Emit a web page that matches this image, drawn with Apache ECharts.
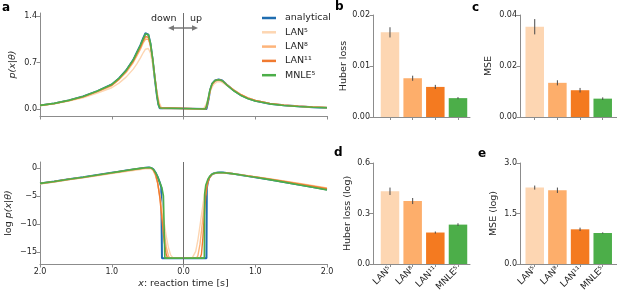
<!DOCTYPE html>
<html>
<head>
<meta charset="utf-8">
<script src="https://cdn.jsdelivr.net/npm/echarts@6/dist/echarts.min.js"></script>
<style>
  html, body { margin: 0; padding: 0; background: #fff; }
  #chart { width: 617px; height: 295px; }
</style>
</head>
<body>
<div id="chart"></div>
<script>
// likelihood curves, [x (s, signed: down < 0 < up), p]
const analyticalLin = [[-2.0, 0.055], [-1.8, 0.085], [-1.6, 0.13], [-1.4, 0.19], [-1.2, 0.27], [-1.0, 0.37], [-0.9, 0.46], [-0.8, 0.58], [-0.7, 0.74], [-0.65, 0.85], [-0.6, 0.96], [-0.56, 1.07], [-0.53, 1.14], [-0.51, 1.16], [-0.49, 1.12], [-0.46, 0.98], [-0.43, 0.74], [-0.40, 0.46], [-0.37, 0.2], [-0.35, 0.07], [-0.33, 0.01], [-0.32, 0], [0.32, 0], [0.33, 0.03], [0.35, 0.15], [0.37, 0.28], [0.40, 0.38], [0.44, 0.43], [0.49, 0.445], [0.54, 0.43], [0.6, 0.37], [0.7, 0.28], [0.8, 0.21], [0.9, 0.16], [1.0, 0.125], [1.2, 0.08], [1.4, 0.055], [1.6, 0.04], [1.8, 0.028], [2.0, 0.02]];
const lan5Lin = [[-2.0, 0.05], [-1.8, 0.08], [-1.6, 0.12], [-1.4, 0.17], [-1.2, 0.24], [-1.0, 0.32], [-0.9, 0.39], [-0.8, 0.48], [-0.7, 0.6], [-0.65, 0.68], [-0.6, 0.77], [-0.56, 0.85], [-0.53, 0.9], [-0.51, 0.92], [-0.49, 0.91], [-0.46, 0.84], [-0.43, 0.68], [-0.40, 0.47], [-0.37, 0.26], [-0.34, 0.1], [-0.31, 0.03], [-0.28, 0.005], [-0.26, 0], [0.26, 0], [0.29, 0.02], [0.32, 0.08], [0.35, 0.18], [0.38, 0.29], [0.42, 0.37], [0.47, 0.41], [0.52, 0.41], [0.58, 0.37], [0.7, 0.29], [0.8, 0.22], [0.9, 0.17], [1.0, 0.13], [1.2, 0.085], [1.4, 0.06], [1.6, 0.042], [1.8, 0.03], [2.0, 0.022]];
const lan8Lin = [[-2.0, 0.052], [-1.8, 0.082], [-1.6, 0.125], [-1.4, 0.18], [-1.2, 0.26], [-1.0, 0.35], [-0.9, 0.44], [-0.8, 0.55], [-0.7, 0.7], [-0.65, 0.8], [-0.6, 0.9], [-0.56, 1.0], [-0.53, 1.05], [-0.51, 1.07], [-0.49, 1.05], [-0.46, 0.95], [-0.43, 0.75], [-0.40, 0.49], [-0.37, 0.24], [-0.34, 0.08], [-0.32, 0.02], [-0.30, 0], [0.30, 0], [0.32, 0.03], [0.34, 0.12], [0.37, 0.27], [0.40, 0.37], [0.44, 0.42], [0.49, 0.435], [0.54, 0.42], [0.6, 0.37], [0.7, 0.285], [0.8, 0.215], [0.9, 0.165], [1.0, 0.13], [1.2, 0.085], [1.4, 0.058], [1.6, 0.042], [1.8, 0.03], [2.0, 0.022]];
const lan11Lin = [[-2.0, 0.054], [-1.8, 0.084], [-1.6, 0.128], [-1.4, 0.185], [-1.2, 0.265], [-1.0, 0.36], [-0.9, 0.45], [-0.8, 0.57], [-0.7, 0.72], [-0.65, 0.83], [-0.6, 0.93], [-0.56, 1.03], [-0.53, 1.09], [-0.51, 1.11], [-0.49, 1.08], [-0.46, 0.96], [-0.43, 0.75], [-0.40, 0.48], [-0.37, 0.22], [-0.35, 0.09], [-0.33, 0.02], [-0.31, 0], [0.31, 0], [0.33, 0.05], [0.35, 0.16], [0.37, 0.28], [0.40, 0.375], [0.44, 0.425], [0.49, 0.44], [0.54, 0.425], [0.6, 0.37], [0.7, 0.285], [0.8, 0.215], [0.9, 0.163], [1.0, 0.128], [1.2, 0.083], [1.4, 0.057], [1.6, 0.041], [1.8, 0.03], [2.0, 0.021]];
const mnleLin = [[-2.0, 0.055], [-1.8, 0.085], [-1.6, 0.13], [-1.4, 0.19], [-1.2, 0.27], [-1.0, 0.37], [-0.9, 0.46], [-0.8, 0.58], [-0.7, 0.74], [-0.65, 0.85], [-0.6, 0.96], [-0.56, 1.06], [-0.53, 1.13], [-0.51, 1.15], [-0.49, 1.12], [-0.46, 0.99], [-0.43, 0.76], [-0.40, 0.47], [-0.37, 0.2], [-0.35, 0.07], [-0.33, 0.015], [-0.31, 0], [0.30, 0], [0.32, 0.04], [0.34, 0.14], [0.37, 0.29], [0.40, 0.385], [0.44, 0.43], [0.49, 0.44], [0.54, 0.425], [0.6, 0.365], [0.7, 0.275], [0.8, 0.205], [0.9, 0.155], [1.0, 0.12], [1.2, 0.078], [1.4, 0.053], [1.6, 0.038], [1.8, 0.027], [2.0, 0.019]];

// log likelihoods, [x, log p]
const analyticalLog = [[-2.0, -2.75], [-1.8, -2.4], [-1.6, -2.0], [-1.4, -1.65], [-1.2, -1.25], [-1.0, -0.85], [-0.9, -0.65], [-0.8, -0.45], [-0.7, -0.25], [-0.6, -0.07], [-0.53, 0.05], [-0.48, 0.09], [-0.45, 0.02], [-0.42, -0.25], [-0.39, -0.8], [-0.36, -1.6], [-0.33, -2.6], [-0.31, -3.5], [-0.30, -16.1], [0.32, -16.1], [0.325, -3.6], [0.34, -2.5], [0.36, -1.7], [0.39, -1.2], [0.42, -0.98], [0.46, -0.85], [0.5, -0.8], [0.55, -0.82], [0.6, -0.9], [0.7, -1.05], [0.8, -1.25], [0.9, -1.45], [1.0, -1.65], [1.2, -2.05], [1.4, -2.5], [1.6, -2.95], [1.8, -3.4], [2.0, -3.85]];
const lan5Log = [[-2.0, -2.85], [-1.8, -2.5], [-1.6, -2.1], [-1.4, -1.75], [-1.2, -1.38], [-1.0, -1.0], [-0.9, -0.82], [-0.8, -0.63], [-0.7, -0.45], [-0.6, -0.27], [-0.53, -0.15], [-0.48, -0.1], [-0.45, -0.15], [-0.42, -0.55], [-0.39, -1.4], [-0.36, -2.8], [-0.33, -4.7], [-0.30, -7.1], [-0.27, -9.7], [-0.24, -12.2], [-0.21, -14.2], [-0.18, -15.5], [-0.15, -16.0], [-0.13, -16.1], [0.12, -16.1], [0.14, -15.9], [0.17, -14.9], [0.20, -12.9], [0.23, -10.3], [0.26, -7.5], [0.29, -4.9], [0.32, -2.9], [0.35, -1.8], [0.38, -1.25], [0.42, -1.0], [0.46, -0.88], [0.5, -0.84], [0.55, -0.85], [0.6, -0.9], [0.7, -1.03], [0.8, -1.2], [0.9, -1.38], [1.0, -1.56], [1.2, -1.93], [1.4, -2.32], [1.6, -2.72], [1.8, -3.12], [2.0, -3.55]];
const lan8Log = [[-2.0, -2.8], [-1.8, -2.45], [-1.6, -2.05], [-1.4, -1.7], [-1.2, -1.31], [-1.0, -0.92], [-0.9, -0.73], [-0.8, -0.53], [-0.7, -0.34], [-0.6, -0.15], [-0.53, -0.02], [-0.48, 0.03], [-0.45, -0.05], [-0.42, -0.42], [-0.39, -1.25], [-0.36, -2.7], [-0.33, -5.1], [-0.30, -8.2], [-0.27, -11.4], [-0.24, -14.1], [-0.21, -15.7], [-0.19, -16.1], [0.18, -16.1], [0.20, -15.7], [0.23, -13.6], [0.26, -10.1], [0.29, -6.4], [0.32, -3.5], [0.35, -1.95], [0.38, -1.3], [0.42, -1.02], [0.46, -0.88], [0.5, -0.83], [0.55, -0.84], [0.6, -0.9], [0.7, -1.04], [0.8, -1.22], [0.9, -1.4], [1.0, -1.58], [1.2, -1.96], [1.4, -2.37], [1.6, -2.78], [1.8, -3.2], [2.0, -3.62]];
const lan11Log = [[-2.0, -2.77], [-1.8, -2.42], [-1.6, -2.02], [-1.4, -1.67], [-1.2, -1.27], [-1.0, -0.88], [-0.9, -0.68], [-0.8, -0.48], [-0.7, -0.28], [-0.6, -0.1], [-0.53, 0.02], [-0.48, 0.06], [-0.45, 0.0], [-0.42, -0.33], [-0.39, -1.1], [-0.36, -2.6], [-0.33, -5.3], [-0.30, -9.2], [-0.27, -13.0], [-0.24, -15.5], [-0.22, -16.1], [0.23, -16.1], [0.25, -15.4], [0.27, -12.5], [0.29, -8.5], [0.31, -5.0], [0.33, -3.0], [0.36, -1.8], [0.39, -1.25], [0.42, -1.0], [0.46, -0.87], [0.5, -0.82], [0.55, -0.83], [0.6, -0.9], [0.7, -1.04], [0.8, -1.23], [0.9, -1.42], [1.0, -1.6], [1.2, -1.99], [1.4, -2.41], [1.6, -2.83], [1.8, -3.26], [2.0, -3.7]];
const mnleLog = [[-2.0, -2.75], [-1.8, -2.4], [-1.6, -2.0], [-1.4, -1.65], [-1.2, -1.25], [-1.0, -0.85], [-0.9, -0.65], [-0.8, -0.45], [-0.7, -0.25], [-0.6, -0.07], [-0.53, 0.04], [-0.48, 0.08], [-0.45, 0.02], [-0.42, -0.25], [-0.39, -0.8], [-0.36, -1.6], [-0.33, -2.6], [-0.30, -3.6], [-0.28, -5.0], [-0.26, -16.1], [0.29, -16.1], [0.295, -4.6], [0.31, -3.1], [0.34, -2.0], [0.37, -1.4], [0.40, -1.08], [0.44, -0.9], [0.48, -0.82], [0.53, -0.81], [0.6, -0.89], [0.7, -1.05], [0.8, -1.25], [0.9, -1.46], [1.0, -1.66], [1.2, -2.07], [1.4, -2.52], [1.6, -2.98], [1.8, -3.44], [2.0, -3.9]];

// bar panels
const models = ["LAN\u2075", "LAN\u2078", "LAN\u00b9\u00b9", "MNLE\u2075"];
const huber = [0.0166, 0.0076, 0.0059, 0.0037];
const huberErr = [0.0010, 0.0005, 0.0004, 0.0002];
const mse = [0.0354, 0.0134, 0.0105, 0.0072];
const mseErr = [0.0030, 0.0010, 0.0009, 0.0005];
const huberLog = [0.432, 0.374, 0.187, 0.234];
const huberLogErr = [0.022, 0.018, 0.006, 0.008];
const mseLog = [2.27, 2.19, 1.03, 0.92];
const mseLogErr = [0.06, 0.08, 0.05, 0.02];

const FONT = "DejaVu Sans";
const TEXT = "#262626";
const AXIS = "#8c8c8c";
const BLUE = "#1f6db0";
const MODEL_COLORS = ["#fdd6b2", "#fdae6b", "#f47a20", "#4cae49"];
const LINE_COLORS = { analytical: BLUE, lan5: "#fdd6b2", lan8: "#fdb47a", lan11: "#f07a30", mnle: "#4cae49" };

const tickFont = { fontFamily: FONT, fontSize: 8, color: TEXT };
const nameFont = { fontFamily: FONT, fontSize: 9.5, color: TEXT };

// onZero off: spines stay on the grid edges like matplotlib
const axisBase = {
  axisLine: { show: true, onZero: false, lineStyle: { color: AXIS, width: 1 } },
  axisTick: { show: true, length: 3.5, lineStyle: { color: AXIS, width: 1 } },
  splitLine: { show: false },
};

const grids = [
  { left: 40, top: 13, width: 287, height: 103 },
  { left: 40, top: 162, width: 287, height: 102 },
  { left: 373, top: 15, width: 97, height: 102 },
  { left: 520, top: 15, width: 97, height: 102 },
  { left: 373, top: 163, width: 97, height: 101 },
  { left: 520, top: 163, width: 97, height: 101 },
];

const curveX = (gi, showLabels) => Object.assign({}, axisBase, {
  type: "value", gridIndex: gi, min: -2, max: 2, interval: 1,
  axisLabel: Object.assign({ show: showLabels, margin: 4, formatter: (v) => Math.abs(v).toFixed(1) }, tickFont),
  name: showLabels ? "{i|x}: reaction time [s]" : "",
  nameLocation: "middle", nameGap: 15,
  nameTextStyle: Object.assign({ rich: { i: Object.assign({ fontStyle: "italic" }, nameFont) } }, nameFont),
});

const barX = (gi, min, max, showLabels) => Object.assign({}, axisBase, {
  type: "value", gridIndex: gi, min: min, max: max,
  axisTick: { show: true, length: 3, customValues: [0, 1, 2, 3], lineStyle: { color: AXIS } },
  axisLabel: Object.assign({
    show: showLabels, customValues: [0, 1, 2, 3], rotate: 45, margin: 4,
    formatter: (v) => models[Math.round(v)],
  }, tickFont, { fontSize: 9 }),
});

const barY = (gi, max, interval, digits, name, gap) => Object.assign({}, axisBase, {
  type: "value", gridIndex: gi, min: 0, max: max, interval: interval,
  axisLabel: Object.assign({ margin: 3, formatter: (v) => v.toFixed(digits) }, tickFont),
  name: name, nameLocation: "middle", nameGap: gap, nameTextStyle: nameFont,
});

const lineSeries = (name, data, color, width, yi, withMark) => {
  const s = {
    type: "line", name: name, data: data, xAxisIndex: yi, yAxisIndex: yi,
    showSymbol: false, symbol: "none", animation: false,
    lineStyle: { color: color, width: width }, itemStyle: { color: color },
  };
  if (withMark) {
    s.markLine = {
      silent: true, symbol: "none", label: { show: false }, animation: false,
      lineStyle: { color: "#6e6e6e", width: 1, type: "solid" },
      data: [{ xAxis: 0 }],
    };
  }
  return s;
};

// bars plus one small two-point line per error bar
const barSeries = (gi, values, errs) => [
  {
    type: "bar", xAxisIndex: gi, yAxisIndex: gi, barWidth: 18.5, animation: false,
    data: values.map((v, i) => ({ value: [i, v], itemStyle: { color: MODEL_COLORS[i] } })),
  },
].concat(values.map((v, i) => ({
  type: "line", xAxisIndex: gi, yAxisIndex: gi, animation: false, z: 5,
  showSymbol: false, symbol: "none", silent: true,
  lineStyle: { color: "#4a4a4a", width: 1 },
  data: [[i, v - errs[i]], [i, v + errs[i]]],
})));

const letter = (t, x, y) => ({
  type: "text", left: x, top: y,
  style: { text: t, font: "bold 12px " + FONT, fill: "#000" },
});

const option = {
  backgroundColor: "#fff",
  animation: false,
  grid: grids,
  legend: {
    left: 257, top: 7, orient: "vertical", icon: "rect",
    itemWidth: 14, itemHeight: 2.5, itemGap: 2.3,
    data: ["analytical", "LAN\u2075", "LAN\u2078", "LAN\u00b9\u00b9", "MNLE\u2075"],
    textStyle: Object.assign({ padding: [0, 0, 0, 4], lineHeight: 12 }, nameFont),
    selectedMode: false,
  },
  xAxis: [
    curveX(0, false),
    curveX(1, true),
    barX(2, -0.75, 3.53, false),
    barX(3, -0.65, 3.63, false),
    barX(4, -0.75, 3.53, true),
    barX(5, -0.65, 3.63, true),
  ],
  yAxis: [
    Object.assign({}, axisBase, {
      type: "value", gridIndex: 0, min: -0.105, max: 1.445,
      axisTick: { show: true, length: 3.5, customValues: [0, 0.7, 1.4], lineStyle: { color: AXIS } },
      axisLabel: Object.assign({ customValues: [0, 0.7, 1.4], margin: 3, formatter: (v) => v.toFixed(1) }, tickFont),
      name: "{i|p}{n|(}{i|x}{n||}{i|\u03b8}{n|)}", nameLocation: "middle", nameGap: 22,
      nameTextStyle: Object.assign({ rich: { i: Object.assign({ fontStyle: "italic" }, nameFont), n: Object.assign({ fontStyle: "italic" }, nameFont) } }, nameFont),
    }),
    Object.assign({}, axisBase, {
      type: "value", gridIndex: 1, min: -17.14, max: 1.07,
      axisTick: { show: true, length: 3.5, customValues: [-15, -10, -5, 0], lineStyle: { color: AXIS } },
      axisLabel: Object.assign({ customValues: [-15, -10, -5, 0], margin: 3, formatter: (v) => (v < 0 ? "\u2212" + Math.abs(v) : "0") }, tickFont),
      name: "log {i|p}{i|(x|\u03b8)}", nameLocation: "middle", nameGap: 26,
      nameTextStyle: Object.assign({ rich: { i: Object.assign({ fontStyle: "italic" }, nameFont) } }, nameFont),
    }),
    barY(2, 0.02, 0.01, 2, "Huber loss", 24),
    barY(3, 0.04, 0.02, 2, "MSE", 26),
    barY(4, 0.6, 0.3, 1, "Huber loss (log)", 20),
    barY(5, 3.0, 1.5, 1, "MSE (log)", 21),
  ],
  series: [
    lineSeries("analytical", analyticalLin, LINE_COLORS.analytical, 2, 0, true),
    lineSeries("LAN\u2075", lan5Lin, LINE_COLORS.lan5, 1.4, 0, false),
    lineSeries("LAN\u2078", lan8Lin, LINE_COLORS.lan8, 1.4, 0, false),
    lineSeries("LAN\u00b9\u00b9", lan11Lin, LINE_COLORS.lan11, 1.4, 0, false),
    lineSeries("MNLE\u2075", mnleLin, LINE_COLORS.mnle, 1.6, 0, false),
    lineSeries("analytical", analyticalLog, LINE_COLORS.analytical, 2, 1, true),
    lineSeries("LAN\u2075", lan5Log, LINE_COLORS.lan5, 1.4, 1, false),
    lineSeries("LAN\u2078", lan8Log, LINE_COLORS.lan8, 1.4, 1, false),
    lineSeries("LAN\u00b9\u00b9", lan11Log, LINE_COLORS.lan11, 1.4, 1, false),
    lineSeries("MNLE\u2075", mnleLog, LINE_COLORS.mnle, 1.6, 1, false),
  ]
    .concat(barSeries(2, huber, huberErr))
    .concat(barSeries(3, mse, mseErr))
    .concat(barSeries(4, huberLog, huberLogErr))
    .concat(barSeries(5, mseLog, mseLogErr)),
  graphic: [
    letter("a", 2, 2),
    letter("b", 335, 1),
    letter("c", 472, 2),
    letter("d", 334, 147),
    letter("e", 478, 148),
    { type: "text", left: 151, top: 14, style: { text: "down", font: "9.5px " + FONT, fill: TEXT } },
    { type: "text", left: 190, top: 14, style: { text: "up", font: "9.5px " + FONT, fill: TEXT } },
    { type: "line", shape: { x1: 173, y1: 28, x2: 193, y2: 28 }, style: { stroke: "#777", lineWidth: 1.5 } },
    { type: "polygon", shape: { points: [[168, 28], [174, 25.3], [174, 30.7]] }, style: { fill: "#777" } },
    { type: "polygon", shape: { points: [[198, 28], [192, 25.3], [192, 30.7]] }, style: { fill: "#777" } },
  ],
};

const chart = echarts.init(document.getElementById("chart"), null, { renderer: "canvas" });
chart.setOption(option);
</script>
</body>
</html>
